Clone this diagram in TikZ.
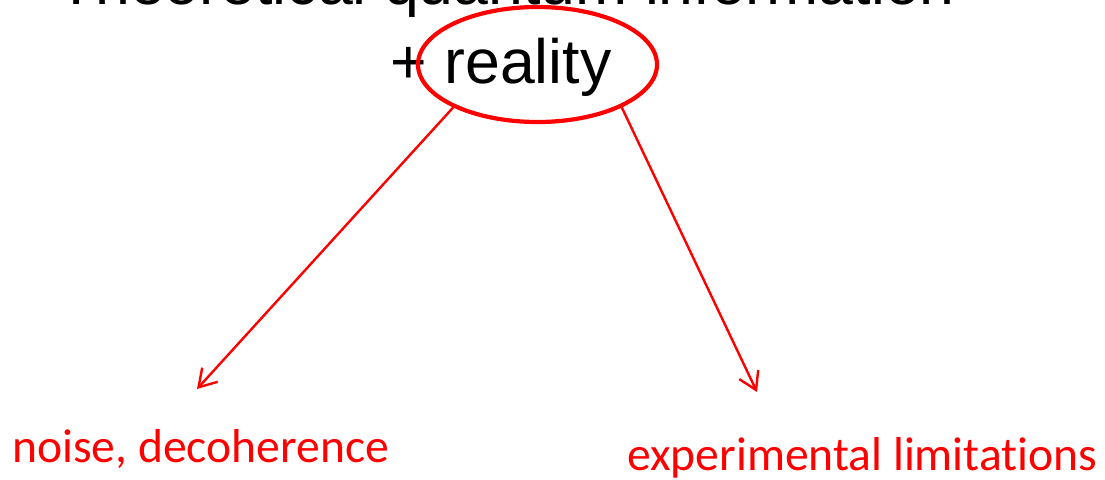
\documentclass[tikz,border=0pt]{standalone}
\usepackage{fontspec}
\setmainfont{Liberation Sans}
\newfontfamily\calibri[Ligatures=NoCommon]{Carlito}
\usetikzlibrary{shapes.geometric,arrows.meta}
\definecolor{pred}{RGB}{255,0,0}
\tikzset{
  titletext/.style={font=\fontsize{62.6}{62.6}\selectfont, text=black, inner sep=0pt, anchor=base},
  labeltext/.style={font=\calibri\fontsize{47.6}{47.6}\selectfont, text=pred, inner sep=0pt, anchor=base west},
  ring/.style={ellipse, draw=pred, line width=4.2pt, minimum width=239pt, minimum height=115pt, inner sep=0pt},
  redarrow/.style={draw=pred, line width=2.4pt, -{Straight Barb[length=17pt,width=21pt,line width=2.4pt]}}
}
\begin{document}
\begin{tikzpicture}[x=1pt,y=-1pt]
\useasboundingbox (0,0) rectangle (1105,479);
\fill[white] (0,0) rectangle (1105,479);
\clip (0,0) rectangle (1105,479);
\node[titletext] (title) at (506,5) {Theoretical quantum information};
\node[titletext] (plus) at (501,83) {+ reality};
\node[ring] (ell) at (537.5,64.5) {};
\coordinate (lt) at (197,389);
\coordinate (rt) at (757,392);
\draw[redarrow] (ell.207) -- (lt);
\draw[redarrow] (ell.333) -- (rt);
\node[labeltext] (noise) at (12,462) {noise, decoherence};
\node[labeltext] (exp) at (627,470) {experimental limitations};
\end{tikzpicture}
\end{document}
